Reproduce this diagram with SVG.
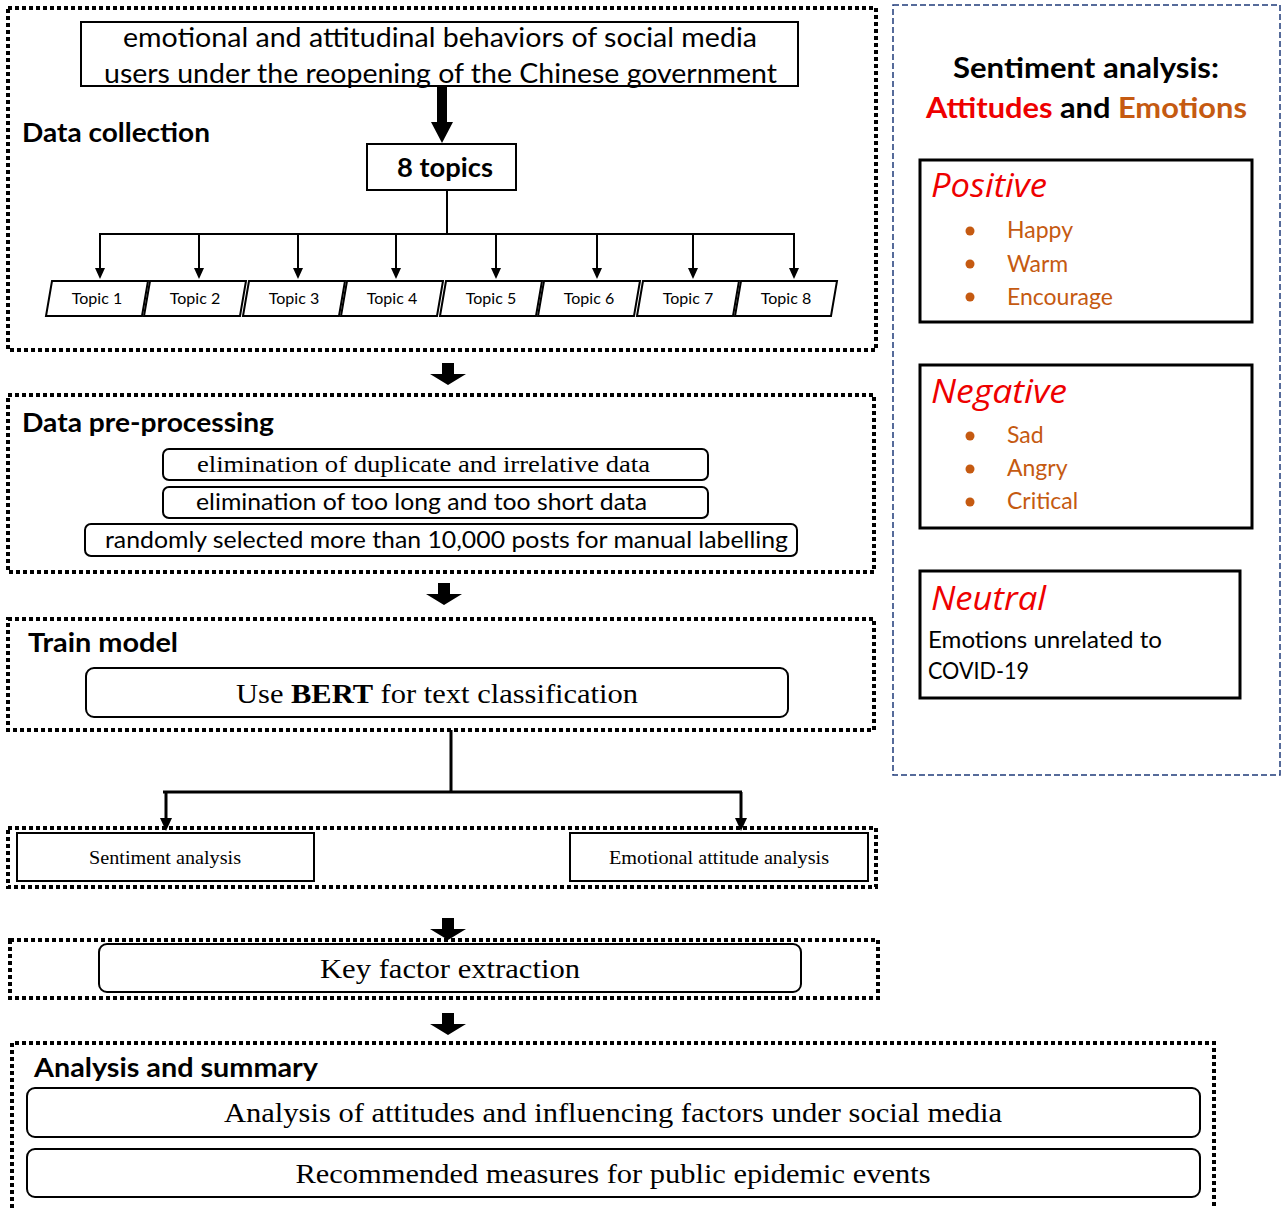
<svg xmlns="http://www.w3.org/2000/svg" xmlns:xlink="http://www.w3.org/1999/xlink" width="1286" height="1208" viewBox="0 0 1286 1208">
<style>
.dot{fill:none;stroke:#000;stroke-width:4;stroke-dasharray:4 3}
.box{fill:#fff;stroke:#000;stroke-width:2}
.rbox{fill:#fff;stroke:#000;stroke-width:2}
.cal{font-family:Lato,"Open Sans","Noto Sans",sans-serif;fill:#000}
.calb{font-family:Lato,"Open Sans","Noto Sans",sans-serif;font-weight:bold;fill:#000}
.tim{font-family:"Liberation Serif","Times New Roman",serif;fill:#000}
.ln{fill:none;stroke:#000;stroke-width:2}
.red{fill:#ee0000}
.org{fill:#c55a11}
.it{font-family:"Open Sans",Lato,sans-serif;font-style:italic;fill:#ee0000}
</style>
<defs>
<path id="blk" d="M-6,0 H6 V11 H18 L0,22 L-18,11 H-6 Z" fill="#000"/>
<path id="sh" d="M-5,-11 H5 L0,0 Z" fill="#000"/>
<path id="sh2" d="M-6,-13 H6 L0,0 Z" fill="#000"/>
</defs>
<rect width="1286" height="1208" fill="#fff"/>

<g id="data-collection">
<rect class="dot" x="8" y="8" width="868" height="342"/>
<rect class="box" x="81" y="22" width="717" height="64"/>
<text class="cal" x="123" y="47" font-size="27" textLength="634" lengthAdjust="spacingAndGlyphs">emotional and attitudinal behaviors of social media</text>
<text class="cal" x="104" y="83" font-size="27" textLength="673" lengthAdjust="spacingAndGlyphs">users under the reopening of the Chinese government</text>
<text class="calb" x="22" y="142" font-size="26" textLength="188" lengthAdjust="spacingAndGlyphs">Data collection</text>
<rect class="box" x="367" y="144" width="149" height="46"/>
<text class="calb" x="397" y="177" font-size="26" textLength="96" lengthAdjust="spacingAndGlyphs">8 topics</text>
</g>

<g id="topics">
<g id="topic1"><polygon class="box" points="52,281 148,281 142,316 46,316"/><text class="cal" x="97" y="304" font-size="16" text-anchor="middle">Topic 1</text></g>
<g id="topic2"><polygon class="box" points="150,281 246,281 240,316 144,316"/><text class="cal" x="195" y="304" font-size="16" text-anchor="middle">Topic 2</text></g>
<g id="topic3"><polygon class="box" points="249,281 345,281 339,316 243,316"/><text class="cal" x="294" y="304" font-size="16" text-anchor="middle">Topic 3</text></g>
<g id="topic4"><polygon class="box" points="347,281 443,281 437,316 341,316"/><text class="cal" x="392" y="304" font-size="16" text-anchor="middle">Topic 4</text></g>
<g id="topic5"><polygon class="box" points="446,281 542,281 536,316 440,316"/><text class="cal" x="491" y="304" font-size="16" text-anchor="middle">Topic 5</text></g>
<g id="topic6"><polygon class="box" points="544,281 640,281 634,316 538,316"/><text class="cal" x="589" y="304" font-size="16" text-anchor="middle">Topic 6</text></g>
<g id="topic7"><polygon class="box" points="643,281 739,281 733,316 637,316"/><text class="cal" x="688" y="304" font-size="16" text-anchor="middle">Topic 7</text></g>
<g id="topic8"><polygon class="box" points="741,281 837,281 831,316 735,316"/><text class="cal" x="786" y="304" font-size="16" text-anchor="middle">Topic 8</text></g>
</g>

<g id="data-preprocessing">
<rect class="dot" x="8" y="395" width="866" height="177"/>
<text class="calb" x="22" y="432" font-size="26" textLength="252" lengthAdjust="spacingAndGlyphs">Data pre-processing</text>
<rect class="rbox" x="163" y="449" width="545" height="31" rx="6"/>
<text class="tim" x="197" y="472" font-size="24" textLength="453" lengthAdjust="spacingAndGlyphs">elimination of duplicate and irrelative data</text>
<rect class="rbox" x="163" y="487" width="545" height="31" rx="6"/>
<text class="cal" x="196" y="510" font-size="23" textLength="451" lengthAdjust="spacingAndGlyphs">elimination of too long and too short data</text>
<rect class="rbox" x="85" y="524" width="712" height="32" rx="6"/>
<text class="cal" x="105" y="548" font-size="23" textLength="683" lengthAdjust="spacingAndGlyphs">randomly selected more than 10,000 posts for manual labelling</text>
</g>

<g id="train-model">
<rect class="dot" x="8" y="619" width="866" height="111"/>
<text class="calb" x="28" y="652" font-size="26" textLength="150" lengthAdjust="spacingAndGlyphs">Train model</text>
<rect class="rbox" x="86" y="668" width="702" height="49" rx="8"/>
<text class="tim" x="236" y="703" font-size="28" textLength="402" lengthAdjust="spacingAndGlyphs">Use <tspan font-weight="bold">BERT</tspan> for text classification</text>
</g>

<g id="analysis-types">
<rect class="dot" x="8" y="828" width="868" height="59"/>
<rect class="box" x="17" y="833" width="297" height="48"/>
<text class="tim" x="165" y="864" font-size="18" text-anchor="middle" textLength="152" lengthAdjust="spacingAndGlyphs">Sentiment analysis</text>
<rect class="box" x="570" y="833" width="298" height="48"/>
<text class="tim" x="719" y="864" font-size="18" text-anchor="middle" textLength="220" lengthAdjust="spacingAndGlyphs">Emotional attitude analysis</text>
</g>

<g id="key-factor">
<rect class="dot" x="10" y="940" width="868" height="58"/>
<rect class="rbox" x="99" y="944" width="702" height="48" rx="8"/>
<text class="tim" x="450" y="978" font-size="28" text-anchor="middle" textLength="260" lengthAdjust="spacingAndGlyphs">Key factor extraction</text>
</g>

<g id="analysis-summary">
<path class="dot" d="M12,1208 V1043 H1214 V1208"/>
<text class="calb" x="34" y="1077" font-size="26" textLength="284" lengthAdjust="spacingAndGlyphs">Analysis and summary</text>
<rect class="rbox" x="27" y="1088" width="1173" height="49" rx="8"/>
<text class="tim" x="613" y="1122" font-size="28" text-anchor="middle" textLength="778" lengthAdjust="spacingAndGlyphs">Analysis of attitudes and influencing factors under social media</text>
<rect class="rbox" x="27" y="1149" width="1173" height="48" rx="8"/>
<text class="tim" x="613" y="1183" font-size="28" text-anchor="middle" textLength="635" lengthAdjust="spacingAndGlyphs">Recommended measures for public epidemic events</text>
</g>

<g id="legend">
<rect x="893" y="5" width="387" height="770" fill="none" stroke="#1f3b7a" stroke-width="1.5" stroke-dasharray="6 3"/>
<text class="calb" x="953" y="78" font-size="28" textLength="266" lengthAdjust="spacingAndGlyphs">Sentiment analysis:</text>
<text class="calb" x="926" y="118" font-size="28" textLength="321" lengthAdjust="spacingAndGlyphs"><tspan fill="#ee0000">Attitudes</tspan> and <tspan fill="#c55a11">Emotions</tspan></text>
<g id="positive">
<rect x="920" y="160" width="332" height="162" fill="#fff" stroke="#000" stroke-width="3"/>
<text class="it" x="931" y="197" font-size="33" textLength="116" lengthAdjust="spacingAndGlyphs">Positive</text>
<circle class="org" cx="970" cy="231" r="4.5"/><text class="cal org" x="1007" y="238" font-size="23">Happy</text>
<circle class="org" cx="970" cy="264" r="4.5"/><text class="cal org" x="1007" y="272" font-size="23">Warm</text>
<circle class="org" cx="970" cy="297" r="4.5"/><text class="cal org" x="1007" y="305" font-size="23">Encourage</text>
</g>
<g id="negative">
<rect x="920" y="365" width="332" height="163" fill="#fff" stroke="#000" stroke-width="3"/>
<text class="it" x="931" y="403" font-size="33" textLength="136" lengthAdjust="spacingAndGlyphs">Negative</text>
<circle class="org" cx="970" cy="436" r="4.5"/><text class="cal org" x="1007" y="443" font-size="23">Sad</text>
<circle class="org" cx="970" cy="469" r="4.5"/><text class="cal org" x="1007" y="476" font-size="23">Angry</text>
<circle class="org" cx="970" cy="502" r="4.5"/><text class="cal org" x="1007" y="509" font-size="23">Critical</text>
</g>
<g id="neutral">
<rect x="920" y="571" width="320" height="127" fill="#fff" stroke="#000" stroke-width="3"/>
<text class="it" x="931" y="610" font-size="33" textLength="115" lengthAdjust="spacingAndGlyphs">Neutral</text>
<text class="cal" x="928" y="648" font-size="23" textLength="234" lengthAdjust="spacingAndGlyphs">Emotions unrelated to</text>
<text class="cal" x="928" y="679" font-size="23" textLength="101" lengthAdjust="spacingAndGlyphs">COVID-19</text>
</g>
</g>

<g id="connectors">
<path d="M437,86 H447 V122 H453 L442,143 L431,122 H437 Z" fill="#000"/>
<path class="ln" d="M447,190 V234 M99,234 H795"/>
<path class="ln" d="M100,234 V270 M199,234 V270 M298,234 V270 M396,234 V270 M496,234 V270 M597,234 V270 M693,234 V270 M794,234 V270"/>
<use xlink:href="#sh" x="100" y="279"/>
<use xlink:href="#sh" x="199" y="279"/>
<use xlink:href="#sh" x="298" y="279"/>
<use xlink:href="#sh" x="396" y="279"/>
<use xlink:href="#sh" x="496" y="279"/>
<use xlink:href="#sh" x="597" y="279"/>
<use xlink:href="#sh" x="693" y="279"/>
<use xlink:href="#sh" x="794" y="279"/>
<use xlink:href="#blk" x="448" y="363"/>
<use xlink:href="#blk" x="444" y="583"/>
<path d="M451,730 V792 M163,792 H742 M166,792 V820 M741,792 V820" fill="none" stroke="#000" stroke-width="3"/>
<use xlink:href="#sh2" x="166" y="831"/>
<use xlink:href="#sh2" x="741" y="831"/>
<use xlink:href="#blk" x="448" y="918"/>
<use xlink:href="#blk" x="448" y="1013"/>
</g>
</svg>
